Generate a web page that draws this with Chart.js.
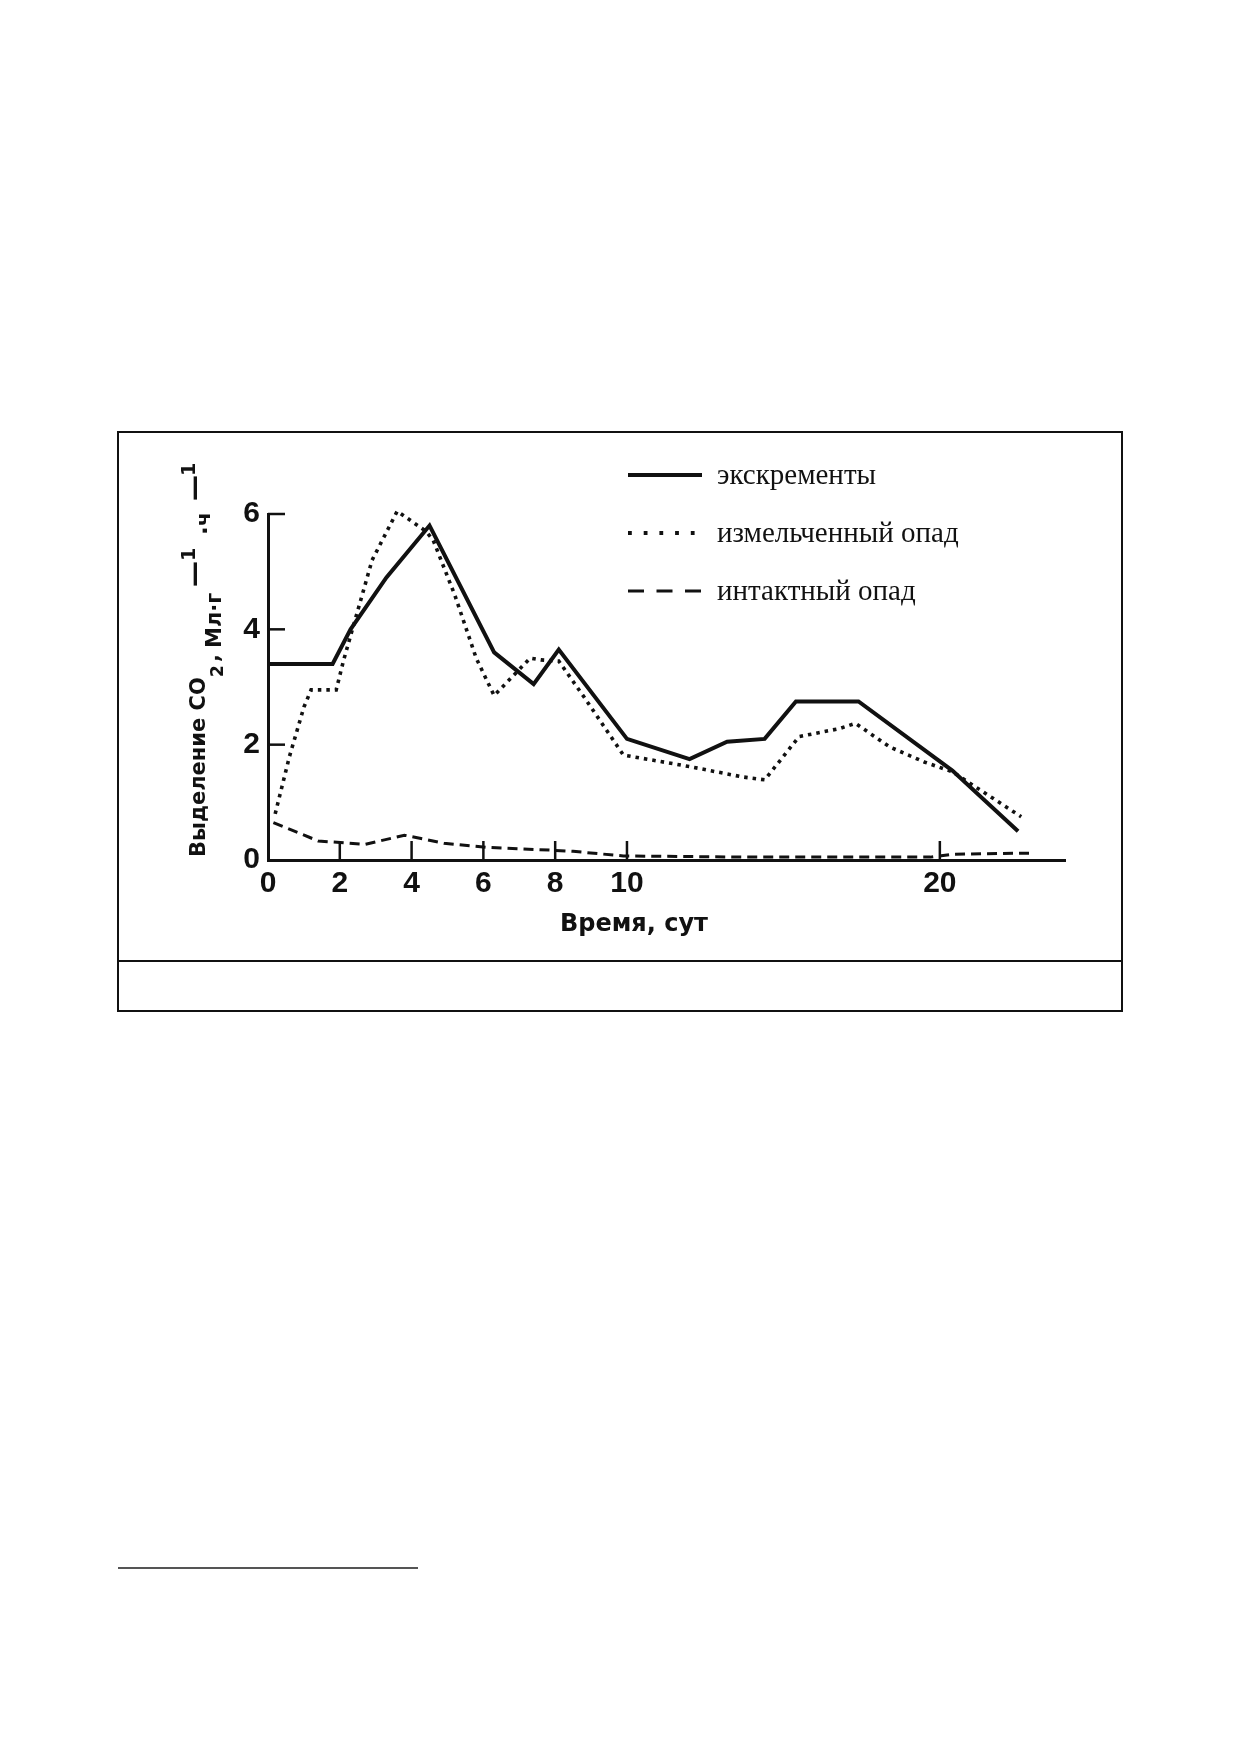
<!DOCTYPE html>
<html>
<head>
<meta charset="utf-8">
<script src="https://cdn.jsdelivr.net/npm/chart.js@4.4.1/dist/chart.umd.min.js"></script>
<style>
  html, body { margin: 0; padding: 0; background: #fff; }
  body { width: 1241px; height: 1754px; position: relative; overflow: hidden; }
  #frame { position: absolute; left: 117px; top: 431px; width: 1006px; height: 581px; border: 2px solid #111; box-sizing: border-box; }
  #divider { position: absolute; left: 117px; top: 960px; width: 1006px; height: 2px; background: #111; }
  #foot { position: absolute; left: 118px; top: 1567px; width: 300px; height: 2px; background: #555; }
  #c { position: absolute; left: 0; top: 0; }
</style>
</head>
<body>
<div id="frame"></div>
<div id="divider"></div>
<div id="foot"></div>
<canvas id="c" width="1241" height="1000"></canvas>
<script>
// ---------------- data ----------------
const X_TICKS = [0, 2, 4, 6, 8, 10, 20];
const Y_TICKS_STEP = 2;

const SERIES_LABELS = ['экскременты', 'измельченный опад', 'интактный опад'];

const excrementX = [0, 1.8, 2.3, 3.3, 4.5, 6.3, 7.4, 8.1, 10.0, 12.0, 13.2, 14.4, 15.4, 17.4, 20.4, 22.5];
const excrementY = [3.4, 3.4, 4.0, 4.9, 5.8, 3.6, 3.05, 3.65, 2.1, 1.75, 2.05, 2.1, 2.75, 2.75, 1.55, 0.5];

const groundX = [0.2, 0.6, 1.0, 1.2, 1.9, 2.1, 2.9, 3.6, 4.4, 4.6, 5.2, 5.8, 6.3, 7.3, 7.6, 8.1, 8.8, 9.9, 12.0, 13.7, 14.4, 14.8, 15.5, 16.8, 17.3, 18.4, 19.5, 20.4, 22.6];
const groundY = [0.8, 1.8, 2.65, 2.95, 2.95, 3.45, 5.2, 6.05, 5.7, 5.55, 4.6, 3.5, 2.85, 3.5, 3.47, 3.45, 2.83, 1.82, 1.62, 1.44, 1.39, 1.66, 2.14, 2.28, 2.37, 1.96, 1.7, 1.53, 0.75];

const intactX = [0.15, 1.4, 2.7, 3.8, 4.9, 6.1, 7.9, 8.5, 9.9, 14.0, 19.7, 20.4, 23.0];
const intactY = [0.65, 0.33, 0.27, 0.43, 0.29, 0.22, 0.17, 0.15, 0.07, 0.05, 0.05, 0.1, 0.12];

// ---------------- x scale with a break in its spacing (as in the original drawing) ----------------
const X_MIN = 0, X_MAX = 24, X_BREAK = 10, X_BREAK_FRACTION = 0.4504;

class BrokenLinearScale extends Chart.LinearScale {
  static id = 'brokenLinear';
  static defaults = Chart.LinearScale.defaults;
  warp(v) {
    const s = this.min, e = this.max;
    if (v <= X_BREAK) return (v - s) / (X_BREAK - s) * X_BREAK_FRACTION;
    return X_BREAK_FRACTION + (v - X_BREAK) / (e - X_BREAK) * (1 - X_BREAK_FRACTION);
  }
  unwarp(d) {
    const s = this.min, e = this.max;
    if (d <= X_BREAK_FRACTION) return s + d / X_BREAK_FRACTION * (X_BREAK - s);
    return X_BREAK + (d - X_BREAK_FRACTION) / (1 - X_BREAK_FRACTION) * (e - X_BREAK);
  }
  getPixelForValue(v) {
    if (v === null || v === undefined || isNaN(v)) return NaN;
    return this.getPixelForDecimal(this.warp(v));
  }
  getValueForPixel(p) {
    return this.unwarp(this.getDecimalForPixel(p));
  }
}
Chart.register(BrokenLinearScale);

const toPts = (xs, ys) => xs.map((x, i) => ({ x: x, y: ys[i] }));
const INK = '#111';

// ---------------- plugins ----------------
const innerTicks = {
  id: 'innerTicks',
  afterDatasetsDraw(chart) {
    const { ctx, chartArea, scales } = chart;
    ctx.save();
    ctx.strokeStyle = INK;
    ctx.lineWidth = 2.5;
    scales.x.ticks.forEach(t => {
      if (t.value === 0) return;
      const px = scales.x.getPixelForValue(t.value);
      ctx.beginPath(); ctx.moveTo(px, chartArea.bottom); ctx.lineTo(px, chartArea.bottom - 19); ctx.stroke();
    });
    scales.y.ticks.forEach(t => {
      if (t.value === 0) return;
      const py = scales.y.getPixelForValue(t.value);
      ctx.beginPath(); ctx.moveTo(chartArea.left, py); ctx.lineTo(chartArea.left + 17, py); ctx.stroke();
    });
    ctx.restore();
  }
};

const legendAndTitles = {
  id: 'legendAndTitles',
  afterDraw(chart) {
    const ctx = chart.ctx;
    ctx.save();
    ctx.fillStyle = INK;
    ctx.strokeStyle = INK;
    // legend
    const rows = [475, 533, 591];
    const dashes = [[], [3.8, 11.9], [16, 12.5]];
    const widths = [4, 3.8, 3.2];
    chart.data.datasets.forEach((ds, i) => {
      const y = rows[i];
      ctx.lineWidth = widths[i];
      ctx.setLineDash(dashes[i]);
      ctx.lineCap = 'butt';
      ctx.beginPath(); ctx.moveTo(628, y); ctx.lineTo(702, y); ctx.stroke();
      ctx.setLineDash([]);
      ctx.font = '29px "Liberation Serif", "Times New Roman", serif';
      ctx.textBaseline = 'alphabetic';
      ctx.textAlign = 'left';
      ctx.fillText(ds.label, 717, y + 9);
    });
    // x title
    ctx.font = 'bold 24px "DejaVu Sans", sans-serif';
    ctx.fillText('Время, сут', 560, 931);
    // y title (rotated, with sub/superscripts)
    const segs = [
      { t: 'Выделение CO', y: 857, b: 205, s: 21 },
      { t: '2', y: 677, b: 223, s: 17 },
      { t: ',', y: 662, b: 219, s: 21 },
      { t: 'Мл·г', y: 648, b: 221, s: 21 },
      { t: '—', y: 587, b: 203, s: 26 },
      { t: '1', y: 561, b: 195, s: 19 },
      { t: '·', y: 535, b: 213, s: 23 },
      { t: 'ч', y: 526, b: 210, s: 20 },
      { t: '—', y: 501, b: 203, s: 26 },
      { t: '1', y: 476, b: 195, s: 19 }
    ];
    segs.forEach(sg => {
      ctx.save();
      ctx.translate(sg.b, sg.y);
      ctx.rotate(-Math.PI / 2);
      ctx.font = 'bold ' + sg.s + 'px "DejaVu Sans", sans-serif';
      ctx.fillText(sg.t, 0, 0);
      ctx.restore();
    });
    ctx.restore();
  }
};

// ---------------- chart ----------------
const tickFont = { family: '"Liberation Sans", Arial, sans-serif', size: 30, weight: 'bold' };

new Chart(document.getElementById('c'), {
  type: 'line',
  data: {
    datasets: [
      { label: SERIES_LABELS[0], data: toPts(excrementX, excrementY), borderColor: INK, borderWidth: 4, pointRadius: 0, tension: 0, fill: false, clip: false },
      { label: SERIES_LABELS[1], data: toPts(groundX, groundY), borderColor: INK, borderWidth: 3.6, borderDash: [3.5, 5], borderCapStyle: 'butt', pointRadius: 0, tension: 0, fill: false, clip: false },
      { label: SERIES_LABELS[2], data: toPts(intactX, intactY), borderColor: INK, borderWidth: 3, borderDash: [10, 6], pointRadius: 0, tension: 0, fill: false, clip: false }
    ]
  },
  options: {
    responsive: false,
    animation: false,
    devicePixelRatio: 1,
    layout: { padding: { left: 208, right: 176, top: 514, bottom: 80 } },
    plugins: { legend: { display: false }, tooltip: { enabled: false }, title: { display: false } },
    scales: {
      x: {
        type: 'brokenLinear',
        min: X_MIN, max: X_MAX,
        afterBuildTicks: (scale) => { scale.ticks = X_TICKS.map(v => ({ value: v })); },
        afterFit: (scale) => { scale.height = 60; },
        grid: { display: true, drawOnChartArea: false, drawTicks: false },
        border: { display: true, color: INK, width: 3 },
        ticks: { autoSkip: false, maxRotation: 0, color: INK, font: tickFont, padding: 6 }
      },
      y: {
        type: 'linear',
        min: 0, max: 6,
        afterFit: (scale) => { scale.width = 60; },
        grid: { display: true, drawOnChartArea: false, drawTicks: false },
        border: { display: true, color: INK, width: 3 },
        ticks: { stepSize: Y_TICKS_STEP, color: INK, font: tickFont, padding: 8 }
      }
    }
  },
  plugins: [innerTicks, legendAndTitles]
});
</script>
</body>
</html>
